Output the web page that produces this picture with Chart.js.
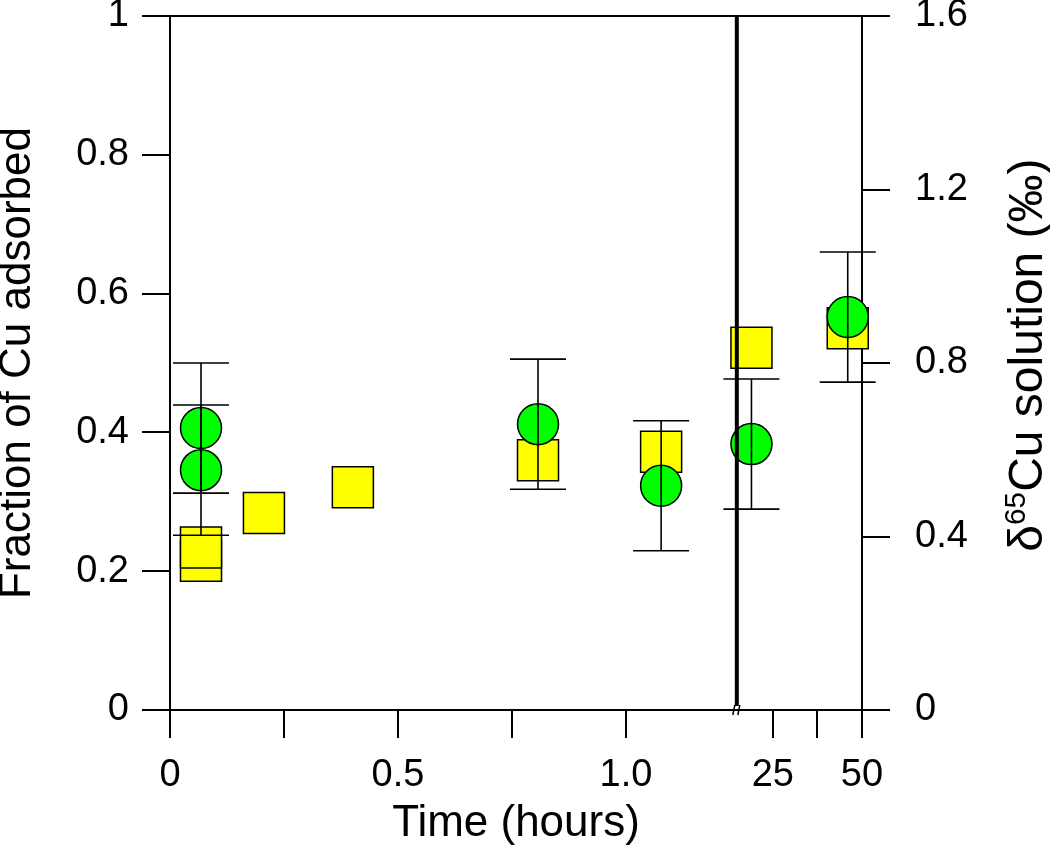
<!DOCTYPE html>
<html>
<head>
<meta charset="utf-8">
<script src="https://cdn.jsdelivr.net/npm/chart.js@4.4.1/dist/chart.umd.min.js"></script>
<style>
html,body{margin:0;padding:0;background:#fff;}
#wrap{width:1050px;height:850px;}
</style>
</head>
<body>
<div id="wrap"><canvas id="c" width="1050" height="850"></canvas></div>
<script>
// ---------------- data ----------------
const adsorbedTimeHours = [0.068, 0.068, 0.206, 0.401, 0.807, 1.077, 19, 46];
const fractionAdsorbed  = [0.215, 0.234, 0.284, 0.321, 0.360, 0.372, 0.522, 0.550];
const deltaTimeHours    = [0.068, 0.068, 0.807, 1.077, 19, 46];
const delta65Cu         = [0.650, 0.553, 0.659, 0.517, 0.613, 0.906];
const delta65CuErr      = [0.15, 0.15, 0.15, 0.15, 0.15, 0.15];
const xTickHours  = [0, 0.25, 0.5, 0.75, 1.0, 25, 37.5, 50];
const xTickLabels = ['0', '', '0.5', '', '1.0', '25', '', '50'];
const leftTicks       = [0, 0.2, 0.4, 0.6, 0.8, 1];
const leftTickLabels  = ['0', '0.2', '0.4', '0.6', '0.8', '1'];
const rightTicks      = [0, 0.4, 0.8, 1.2, 1.6];
const rightTickLabels = ['0', '0.4', '0.8', '1.2', '1.6'];

// ---------------- broken time axis mapping ----------------
const BREAK_DISPLAY = 1.243;           // where the axis break is drawn
const SEG2_START_HOURS = 25, SEG2_START_DISPLAY = 1.322, SEG2_DISPLAY_PER_HOUR = 0.00782;
function toDisplay(h) {
  return h <= 1.2 ? h : SEG2_START_DISPLAY + (h - SEG2_START_HOURS) * SEG2_DISPLAY_PER_HOUR;
}

const FONT = '"Liberation Sans", Arial, Helvetica, sans-serif';

const squares = {
  label: 'Fraction of Cu adsorbed',
  yAxisID: 'y',
  data: adsorbedTimeHours.map((t, i) => ({x: toDisplay(t), y: fractionAdsorbed[i]})),
  pointStyle: 'rect',
  pointRadius: 29,
  pointBackgroundColor: '#ffff00',
  pointBorderColor: '#000',
  pointBorderWidth: 1.5,
  showLine: false,
  clip: false,
  order: 3
};
const circles = {
  label: 'δ65Cu solution',
  yAxisID: 'y2',
  data: deltaTimeHours.map((t, i) => ({x: toDisplay(t), y: delta65Cu[i]})),
  pointStyle: 'circle',
  pointRadius: 20.5,
  pointBackgroundColor: '#00ff00',
  pointBorderColor: '#000',
  pointBorderWidth: 1.5,
  showLine: false,
  clip: false,
  order: 2
};
const errorBars = deltaTimeHours.map((t, i) => ({
  label: 'err' + i,
  yAxisID: 'y2',
  data: [
    {x: toDisplay(t), y: delta65Cu[i] - delta65CuErr[i]},
    {x: toDisplay(t), y: delta65Cu[i] + delta65CuErr[i]}
  ],
  showLine: true,
  borderColor: '#000',
  borderWidth: 1.6,
  pointStyle: 'line',
  pointRadius: 28,
  pointBorderColor: '#000',
  pointBorderWidth: 1.6,
  pointBackgroundColor: '#000',
  clip: false,
  order: 1
}));

const decorations = {
  id: 'decorations',
  afterDatasetsDraw(chart) {
    const {ctx, chartArea, scales} = chart;
    ctx.save();
    // top frame line
    ctx.strokeStyle = '#000';
    ctx.lineWidth = 2;
    ctx.beginPath();
    ctx.moveTo(chartArea.left, chartArea.top);
    ctx.lineTo(chartArea.right, chartArea.top);
    ctx.stroke();
    // axis break line
    const bx = scales.x.getPixelForValue(BREAK_DISPLAY);
    ctx.lineWidth = 4;
    ctx.beginPath();
    ctx.moveTo(bx, chartArea.top);
    ctx.lineTo(bx, chartArea.bottom - 4);
    ctx.stroke();
    // break marks on the time axis
    ctx.lineWidth = 1.5;
    ctx.beginPath();
    ctx.moveTo(bx - 4, chartArea.bottom + 5);
    ctx.lineTo(bx - 2, chartArea.bottom - 5);
    ctx.moveTo(bx + 1, chartArea.bottom + 5);
    ctx.lineTo(bx + 3, chartArea.bottom - 5);
    ctx.stroke();
    ctx.restore();

    // right axis title (reads bottom to top, with superscript)
    ctx.save();
    const size = 48;
    const cx = scales.y2.right - 8;
    const startY = scales.y2.getPixelForValue(0.365);
    ctx.translate(cx, startY);
    ctx.rotate(-Math.PI / 2);
    ctx.fillStyle = '#000';
    ctx.textBaseline = 'alphabetic';
    ctx.textAlign = 'left';
    const parts = [
      {t: 'δ', s: size, dy: 0},
      {t: '65', s: size * 0.62, dy: -size * 0.36},
      {t: 'Cu solution (‰)', s: size, dy: 0}
    ];
    let u = 0;
    parts.forEach(p => { ctx.font = p.s + 'px ' + FONT; ctx.fillText(p.t, u, p.dy); u += ctx.measureText(p.t).width; });
    ctx.restore();
  }
};

const tickFont = {family: FONT, size: 38};
const axisGrid = {drawOnChartArea: false, drawTicks: true, tickLength: 28, lineWidth: 2, color: '#000'};
const axisBorder = {display: true, width: 2, color: '#000'};

new Chart(document.getElementById('c'), {
  type: 'scatter',
  data: {datasets: [squares, circles, ...errorBars]},
  plugins: [decorations],
  options: {
    responsive: false,
    animation: false,
    devicePixelRatio: 1,
    layout: {autoPadding: false, padding: {top: 16, left: 0, right: 0, bottom: 0}},
    plugins: {legend: {display: false}, tooltip: {enabled: false}},
    scales: {
      x: {
        type: 'linear',
        min: 0,
        max: toDisplay(50),
        afterBuildTicks: s => { s.ticks = xTickHours.map(h => ({value: toDisplay(h)})); },
        afterFit: s => { s.height = 140; s.paddingLeft = 0; s.paddingRight = 0; },
        ticks: {autoSkip: false, maxRotation: 0, font: tickFont, color: '#000', padding: 15,
                callback: (v, i) => xTickLabels[i]},
        grid: axisGrid,
        border: axisBorder,
        title: {display: true, text: 'Time (hours)', color: '#000',
                font: {family: FONT, size: 44, lineHeight: 1.2}, padding: {top: 0, bottom: 0}}
      },
      y: {
        type: 'linear',
        position: 'left',
        min: 0,
        max: 1,
        afterBuildTicks: s => { s.ticks = leftTicks.map(v => ({value: v})); },
        afterFit: s => { s.width = 170; s.paddingTop = 0; s.paddingBottom = 0; },
        ticks: {font: tickFont, color: '#000', padding: 13, callback: (v, i) => leftTickLabels[i]},
        grid: axisGrid,
        border: axisBorder,
        title: {display: true, text: 'Fraction of Cu adsorbed', color: '#000',
                font: {family: FONT, size: 44, lineHeight: 0.82}, padding: {top: 0, bottom: 0}}
      },
      y2: {
        type: 'linear',
        position: 'right',
        min: 0,
        max: 1.6,
        afterBuildTicks: s => { s.ticks = rightTicks.map(v => ({value: v})); },
        afterFit: s => { s.width = 188; s.paddingTop = 0; s.paddingBottom = 0; },
        ticks: {font: tickFont, color: '#000', padding: 25, callback: (v, i) => rightTickLabels[i]},
        grid: axisGrid,
        border: axisBorder
      }
    }
  }
});
</script>
</body>
</html>
